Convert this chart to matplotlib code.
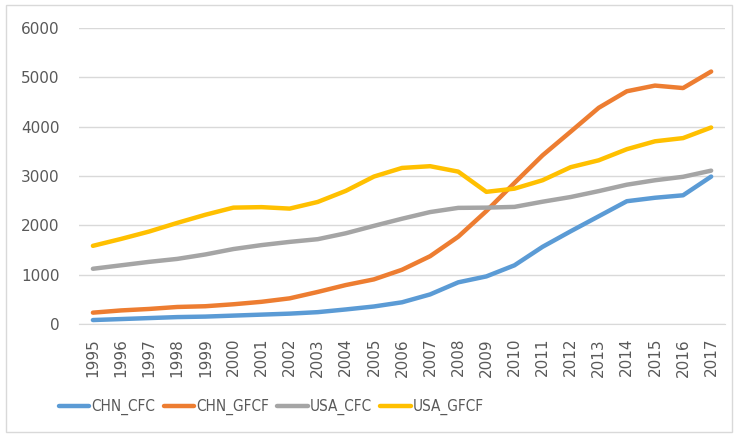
import matplotlib.pyplot as plt
from matplotlib.patches import Rectangle

years = list(range(1995, 2018))

chn_cfc = [80, 100, 120, 140, 150, 170, 190, 210, 240, 295, 355, 440, 600, 845, 965,
           1190, 1565, 1880, 2185, 2490, 2560, 2610, 2990]
chn_gfcf = [230, 275, 305, 345, 360, 400, 450, 520, 650, 790, 905, 1100, 1375, 1770, 2290,
            2860, 3420, 3900, 4385, 4720, 4835, 4785, 5120]
usa_cfc = [1120, 1190, 1260, 1320, 1410, 1520, 1600, 1665, 1720, 1840, 1990, 2135, 2270,
           2355, 2360, 2375, 2480, 2575, 2695, 2825, 2915, 2985, 3110]
usa_gfcf = [1585, 1725, 1875, 2050, 2215, 2360, 2370, 2340, 2475, 2700, 2990, 3165, 3200,
            3090, 2680, 2745, 2915, 3180, 3320, 3545, 3705, 3770, 3985]

series = [("CHN_CFC", chn_cfc, "#5B9BD5"),
          ("CHN_GFCF", chn_gfcf, "#ED7D31"),
          ("USA_CFC", usa_cfc, "#A5A5A5"),
          ("USA_GFCF", usa_gfcf, "#FFC000")]

fig = plt.figure(figsize=(7.37, 4.37), dpi=100)
ax = fig.add_axes([0.107, 0.2586, 0.877, 0.677])

for name, vals, color in series:
    ax.plot(years, vals, color=color, linewidth=3.2, label=name, solid_capstyle="round")

ax.set_xlim(1994.5, 2017.5)
ax.set_ylim(0, 6000)
ax.set_yticks(range(0, 6001, 1000))
ax.set_xticks(years)
ax.set_xticklabels([str(y) for y in years], rotation=90)
ax.tick_params(axis="both", length=0, labelsize=11, colors="#595959")
ax.tick_params(axis="x", pad=10)
ax.tick_params(axis="y", pad=14)
ax.grid(axis="y", color="#D9D9D9", linewidth=1)
ax.set_axisbelow(True)
for side in ["top", "right", "left"]:
    ax.spines[side].set_visible(False)
ax.spines["bottom"].set_color("#D9D9D9")

fig.legend(loc="center", bbox_to_anchor=(0.368, 0.068), ncol=4, frameon=False,
           prop={"family": "DejaVu Sans", "stretch": "condensed", "size": 11},
           handlelength=2.0, columnspacing=0.55, handletextpad=0.12,
           labelcolor="#595959")

# chart area border
fig.patches.append(Rectangle((6 / 737, 5 / 437), 726 / 737, 427 / 437,
                             transform=fig.transFigure, fill=False,
                             edgecolor="#D9D9D9", linewidth=1))

fig.savefig("out.png", dpi=100)
